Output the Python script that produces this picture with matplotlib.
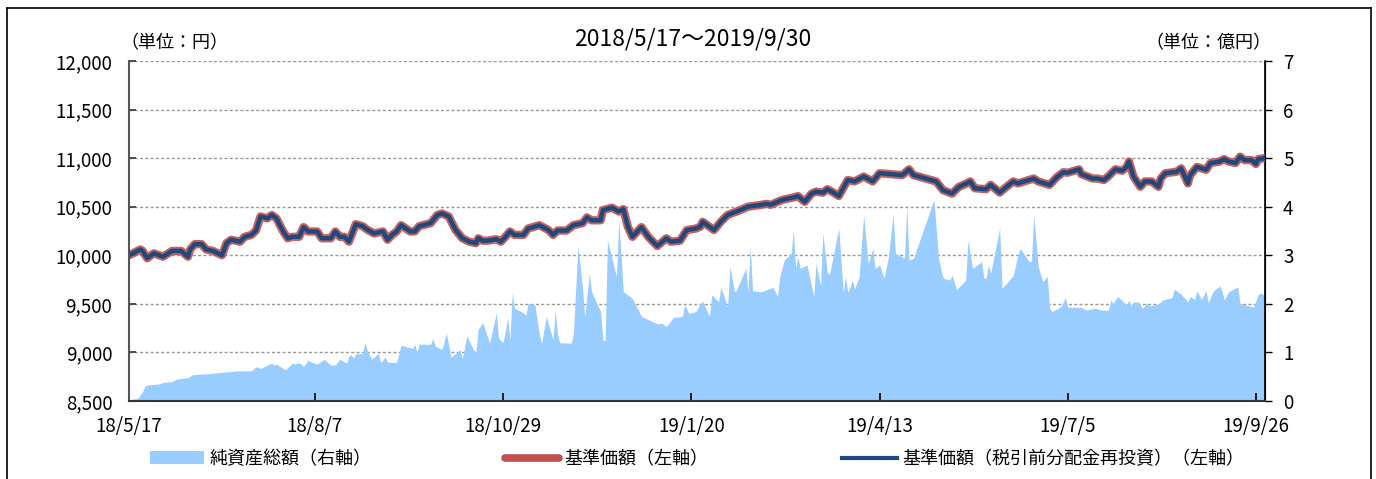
import pandas as pd
import matplotlib
matplotlib.use('Agg')
import matplotlib.pyplot as plt
from matplotlib.lines import Line2D
from matplotlib.patches import Patch

plt.rcParams['font.family'] = ['Noto Sans CJK JP', 'DejaVu Sans']

## 基準価額 (左軸, 円)
nav_dates = ['2018-05-17', '2018-05-22', '2018-05-23', '2018-05-25', '2018-05-28', '2018-06-01',
             '2018-06-05', '2018-06-09', '2018-06-12', '2018-06-13', '2018-06-15', '2018-06-18',
             '2018-06-20', '2018-06-23', '2018-06-27', '2018-06-29', '2018-07-01', '2018-07-05',
             '2018-07-07', '2018-07-10', '2018-07-12', '2018-07-14', '2018-07-17', '2018-07-19',
             '2018-07-21', '2018-07-24', '2018-07-26', '2018-07-28', '2018-07-31', '2018-08-02',
             '2018-08-04', '2018-08-08', '2018-08-10', '2018-08-14', '2018-08-16', '2018-08-18',
             '2018-08-20', '2018-08-22', '2018-08-25', '2018-08-28', '2018-08-30', '2018-09-02',
             '2018-09-06', '2018-09-08', '2018-09-10', '2018-09-12', '2018-09-14', '2018-09-18',
             '2018-09-20', '2018-09-22', '2018-09-27', '2018-09-30', '2018-10-02', '2018-10-05',
             '2018-10-08', '2018-10-11', '2018-10-14', '2018-10-17', '2018-10-18', '2018-10-20',
             '2018-10-22', '2018-10-26', '2018-10-28', '2018-10-30', '2018-11-01', '2018-11-03',
             '2018-11-07', '2018-11-09', '2018-11-14', '2018-11-18', '2018-11-20', '2018-11-22',
             '2018-11-26', '2018-11-29', '2018-12-03', '2018-12-05', '2018-12-07', '2018-12-11',
             '2018-12-12', '2018-12-16', '2018-12-19', '2018-12-21', '2018-12-23', '2018-12-25',
             '2018-12-29', '2019-01-01', '2019-01-05', '2019-01-09', '2019-01-11', '2019-01-15',
             '2019-01-18', '2019-01-22', '2019-01-24', '2019-01-25', '2019-01-30', '2019-02-02',
             '2019-02-05', '2019-02-10', '2019-02-14', '2019-02-20', '2019-02-22', '2019-02-24',
             '2019-02-27', '2019-03-01', '2019-03-06', '2019-03-08', '2019-03-11', '2019-03-14',
             '2019-03-16', '2019-03-19', '2019-03-21', '2019-03-23', '2019-03-26', '2019-03-30',
             '2019-04-02', '2019-04-06', '2019-04-10', '2019-04-13', '2019-04-18', '2019-04-23',
             '2019-04-26', '2019-04-28', '2019-05-08', '2019-05-11', '2019-05-15', '2019-05-18',
             '2019-05-21', '2019-05-23', '2019-05-25', '2019-05-30', '2019-06-01', '2019-06-05',
             '2019-06-08', '2019-06-11', '2019-06-13', '2019-06-20', '2019-06-22', '2019-06-27',
             '2019-06-30', '2019-07-03', '2019-07-05', '2019-07-10', '2019-07-11', '2019-07-16',
             '2019-07-18', '2019-07-21', '2019-07-23', '2019-07-26', '2019-07-29', '2019-07-31',
             '2019-08-01', '2019-08-03', '2019-08-06', '2019-08-08', '2019-08-11', '2019-08-14',
             '2019-08-15', '2019-08-17', '2019-08-22', '2019-08-24', '2019-08-27', '2019-08-28',
             '2019-08-31', '2019-09-04', '2019-09-06', '2019-09-10', '2019-09-12', '2019-09-14',
             '2019-09-17', '2019-09-19', '2019-09-21', '2019-09-24', '2019-09-26', '2019-09-27',
             '2019-09-30']
nav = [10000, 10060, 10045, 9970, 10020, 9985, 10045, 10045, 9985, 10060, 10115, 10115,
       10060, 10045, 10000, 10125, 10160, 10140, 10190, 10210, 10255, 10400, 10380, 10415,
       10380, 10245, 10175, 10190, 10190, 10290, 10245, 10245, 10175, 10175, 10245, 10190,
       10190, 10140, 10320, 10300, 10265, 10225, 10245, 10160, 10210, 10245, 10310, 10245,
       10245, 10300, 10330, 10415, 10430, 10400, 10260, 10175, 10140, 10125, 10175, 10150,
       10150, 10165, 10140, 10190, 10245, 10210, 10210, 10275, 10310, 10260, 10210, 10255,
       10255, 10310, 10330, 10390, 10360, 10360, 10465, 10490, 10450, 10475, 10295, 10190,
       10290, 10190, 10095, 10175, 10140, 10150, 10260, 10275, 10295, 10345, 10260, 10345,
       10415, 10460, 10500, 10520, 10530, 10520, 10550, 10570, 10595, 10610, 10550, 10635,
       10655, 10645, 10680, 10655, 10610, 10775, 10760, 10810, 10760, 10845, 10835, 10825,
       10885, 10825, 10760, 10670, 10635, 10705, 10735, 10760, 10690, 10680, 10725, 10645,
       10705, 10760, 10740, 10790, 10760, 10725, 10800, 10855, 10850, 10885, 10835, 10790,
       10790, 10775, 10815, 10885, 10870, 10910, 10965, 10810, 10705, 10760, 10760, 10705,
       10790, 10845, 10860, 10895, 10740, 10825, 10910, 10880, 10950, 10965, 10990, 10965,
       10950, 11015, 10980, 10980, 10940, 10990, 11000]
## 基準価額(税引前分配金再投資) - 分配なしのため同値
nav_reinvest = list(nav)

## 純資産総額 (右軸, 億円)
aum_dates = ['2018-05-17', '2018-05-21', '2018-05-23', '2018-05-24', '2018-05-25', '2018-05-30',
             '2018-06-01', '2018-06-05', '2018-06-07', '2018-06-12', '2018-06-14', '2018-06-20',
             '2018-06-23', '2018-06-26', '2018-06-30', '2018-07-03', '2018-07-10', '2018-07-12',
             '2018-07-14', '2018-07-19', '2018-07-20', '2018-07-21', '2018-07-25', '2018-07-28',
             '2018-07-29', '2018-07-31', '2018-08-02', '2018-08-04', '2018-08-06', '2018-08-08',
             '2018-08-11', '2018-08-14', '2018-08-16', '2018-08-18', '2018-08-21', '2018-08-22',
             '2018-08-23', '2018-08-24', '2018-08-25', '2018-08-28', '2018-08-29', '2018-08-30',
             '2018-09-01', '2018-09-04', '2018-09-05', '2018-09-07', '2018-09-08', '2018-09-12',
             '2018-09-14', '2018-09-19', '2018-09-20', '2018-09-21', '2018-09-22', '2018-09-27',
             '2018-09-28', '2018-09-29', '2018-10-02', '2018-10-04', '2018-10-06', '2018-10-10',
             '2018-10-11', '2018-10-13', '2018-10-16', '2018-10-17', '2018-10-18', '2018-10-20',
             '2018-10-23', '2018-10-26', '2018-10-27', '2018-10-29', '2018-10-31', '2018-11-01',
             '2018-11-02', '2018-11-03', '2018-11-06', '2018-11-08', '2018-11-09', '2018-11-12',
             '2018-11-14', '2018-11-15', '2018-11-17', '2018-11-20', '2018-11-21', '2018-11-22',
             '2018-11-23', '2018-11-28', '2018-11-29', '2018-12-01', '2018-12-03', '2018-12-04',
             '2018-12-06', '2018-12-07', '2018-12-11', '2018-12-12', '2018-12-13', '2018-12-14',
             '2018-12-18', '2018-12-19', '2018-12-21', '2018-12-25', '2018-12-29', '2019-01-05',
             '2019-01-07', '2019-01-09', '2019-01-12', '2019-01-16', '2019-01-17', '2019-01-19',
             '2019-01-22', '2019-01-24', '2019-01-25', '2019-01-28', '2019-01-29', '2019-02-01',
             '2019-02-02', '2019-02-05', '2019-02-06', '2019-02-08', '2019-02-09', '2019-02-13',
             '2019-02-14', '2019-02-15', '2019-02-16', '2019-02-20', '2019-02-25', '2019-02-27',
             '2019-02-28', '2019-03-02', '2019-03-05', '2019-03-06', '2019-03-07', '2019-03-08',
             '2019-03-09', '2019-03-12', '2019-03-15', '2019-03-16', '2019-03-18', '2019-03-19',
             '2019-03-21', '2019-03-22', '2019-03-26', '2019-03-28', '2019-03-29', '2019-03-30',
             '2019-04-01', '2019-04-02', '2019-04-04', '2019-04-06', '2019-04-08', '2019-04-10',
             '2019-04-11', '2019-04-13', '2019-04-15', '2019-04-17', '2019-04-19', '2019-04-20',
             '2019-04-24', '2019-04-25', '2019-04-26', '2019-04-28', '2019-05-07', '2019-05-09',
             '2019-05-11', '2019-05-14', '2019-05-15', '2019-05-17', '2019-05-21', '2019-05-22',
             '2019-05-24', '2019-05-28', '2019-05-29', '2019-05-30', '2019-05-31', '2019-06-01',
             '2019-06-05', '2019-06-06', '2019-06-08', '2019-06-11', '2019-06-13', '2019-06-14',
             '2019-06-18', '2019-06-19', '2019-06-20', '2019-06-22', '2019-06-24', '2019-06-26',
             '2019-06-27', '2019-06-28', '2019-07-02', '2019-07-04', '2019-07-05', '2019-07-11',
             '2019-07-13', '2019-07-17', '2019-07-20', '2019-07-23', '2019-07-24', '2019-07-25',
             '2019-07-27', '2019-07-31', '2019-08-01', '2019-08-02', '2019-08-03', '2019-08-05',
             '2019-08-07', '2019-08-09', '2019-08-10', '2019-08-14', '2019-08-16', '2019-08-20',
             '2019-08-21', '2019-08-24', '2019-08-27', '2019-08-28', '2019-08-30', '2019-08-31',
             '2019-09-02', '2019-09-04', '2019-09-05', '2019-09-07', '2019-09-10', '2019-09-11',
             '2019-09-12', '2019-09-14', '2019-09-18', '2019-09-19', '2019-09-25', '2019-09-27',
             '2019-09-28', '2019-09-30']
aum = [0.02, 0.06, 0.19, 0.30, 0.33, 0.35, 0.38, 0.40, 0.45, 0.48, 0.54, 0.56,
       0.57, 0.59, 0.60, 0.62, 0.62, 0.71, 0.67, 0.78, 0.74, 0.76, 0.64, 0.78,
       0.76, 0.79, 0.71, 0.84, 0.79, 0.76, 0.86, 0.74, 0.74, 0.86, 0.78, 0.93,
       0.95, 0.88, 0.97, 0.98, 1.20, 1.05, 0.86, 0.98, 0.79, 0.90, 0.80, 0.79,
       1.15, 1.08, 1.17, 1.01, 1.17, 1.17, 1.29, 1.13, 1.06, 1.39, 0.90, 1.06,
       0.88, 1.34, 1.05, 1.01, 1.48, 1.61, 1.19, 1.82, 1.29, 1.20, 1.72, 1.26,
       2.22, 1.91, 1.84, 1.77, 2.01, 1.98, 1.36, 1.19, 1.74, 1.26, 1.87, 1.36,
       1.20, 1.19, 1.39, 3.21, 2.32, 1.74, 2.63, 2.25, 1.84, 1.26, 1.24, 3.31,
       2.56, 3.73, 2.25, 2.11, 1.74, 1.59, 1.60, 1.53, 1.72, 1.74, 1.98, 1.80,
       1.84, 2.01, 2.05, 1.74, 2.18, 2.05, 2.34, 1.94, 2.77, 2.25, 2.29, 2.73,
       2.25, 3.18, 2.27, 2.25, 2.34, 2.15, 2.56, 2.90, 3.04, 3.52, 2.73, 2.97,
       2.73, 2.80, 2.15, 2.83, 2.37, 3.45, 2.64, 2.61, 3.56, 2.22, 2.56, 2.23,
       2.49, 2.30, 2.56, 3.83, 2.83, 3.14, 2.73, 2.80, 2.53, 2.99, 3.86, 3.04,
       2.94, 4.00, 2.90, 2.94, 4.15, 2.94, 2.53, 2.49, 2.59, 2.29, 2.49, 3.31,
       2.73, 2.87, 2.53, 2.53, 2.80, 2.63, 3.56, 2.32, 2.42, 2.59, 3.00, 3.14,
       2.87, 2.87, 3.83, 2.76, 2.46, 2.56, 1.91, 1.84, 1.94, 2.13, 1.93, 1.93,
       1.87, 1.91, 1.87, 1.87, 2.08, 2.01, 2.15, 1.98, 2.08, 1.96, 2.04, 2.04,
       1.91, 2.02, 1.96, 2.00, 2.08, 2.13, 2.30, 2.20, 2.04, 2.15, 2.09, 2.27,
       2.09, 2.27, 2.02, 2.25, 2.37, 2.27, 2.08, 2.25, 2.35, 2.01, 1.93, 2.20,
       2.22, 2.18]

tick_dates = ['2018-05-17', '2018-08-07', '2018-10-29', '2019-01-20', '2019-04-13', '2019-07-05', '2019-09-26']
tick_labels = ['18/5/17', '18/8/7', '18/10/29', '19/1/20', '19/4/13', '19/7/5', '19/9/26']

nav_x = pd.to_datetime(nav_dates)
aum_x = pd.to_datetime(aum_dates)

fig = plt.figure(figsize=(13.76, 4.79), dpi=100)
ax = fig.add_axes([129/1376, 78/479, 1136/1376, 340/479])
ax2 = ax.twinx()
ax.set_zorder(2)
ax2.set_zorder(1)
ax.patch.set_visible(False)

## area (right axis)
ax2.fill_between(aum_x, aum, 0, color='#99CCFF', linewidth=0, zorder=2)
ax2.set_ylim(0, 7)
ax2.set_yticks(range(0, 8))
ax2.grid(axis='y', color='#999999', linestyle=(0, (2.2, 1.6)), linewidth=1.0, zorder=0)
ax2.set_axisbelow(True)

## lines (left axis)
ax.plot(nav_x, nav, color='#C0504D', linewidth=6.0, alpha=0.9, solid_joinstyle='round', solid_capstyle='round')
ax.plot(nav_x, nav_reinvest, color='#1F497D', linewidth=3.2, solid_joinstyle='round')
ax.set_ylim(8500, 12000)
ax.set_yticks(range(8500, 12001, 500))
ax.set_yticklabels([f'{v:,}' for v in range(8500, 12001, 500)])
ax.set_xlim(pd.Timestamp('2018-05-17'), pd.Timestamp('2019-09-30'))
ax.set_xticks(pd.to_datetime(tick_dates))
ax.set_xticklabels(tick_labels)

for a in (ax, ax2):
    a.spines['top'].set_visible(False)
ax.spines['left'].set_color('#555555')
ax.spines['left'].set_linewidth(1.5)
ax.spines['bottom'].set_color('#333333')
ax.spines['bottom'].set_linewidth(1.5)
ax2.spines['right'].set_color('#000000')
ax2.spines['right'].set_linewidth(1.2)
ax2.spines['left'].set_visible(False)
ax2.spines['bottom'].set_visible(False)

ax.tick_params(axis='y', direction='in', length=5, width=1.2, labelsize=13.5, pad=12, colors='#333333', labelcolor='black')
ax.tick_params(axis='x', direction='in', length=6, width=1.2, labelsize=13.5, pad=11, colors='#000000')
ax2.tick_params(axis='y', direction='out', length=5, width=1.0, labelsize=13.5, pad=8)

fig.text(120/1376, 1 - 43/479, '（単位：円）', fontsize=13, ha='left', va='center')
fig.text(1271/1376, 1 - 43/479, '（単位：億円）', fontsize=13, ha='right', va='center')
fig.text(693/1376, 1 - 39/479, '2018/5/17～2019/9/30', fontsize=16.5, ha='center', va='center')

## outer frame
for xs, ys in (([7/1376, 7/1376], [0, 1 - 8/479]),
               ([7/1376, 1371/1376], [1 - 8/479, 1 - 8/479]),
               ([1371/1376, 1371/1376], [0, 1 - 8/479])):
    fig.add_artist(Line2D(xs, ys, color='black', linewidth=1.2, transform=fig.transFigure))

handles = [Patch(facecolor='#99CCFF', edgecolor='none'),
           Line2D([], [], color='#C0504D', linewidth=5.5, solid_capstyle='round'),
           Line2D([], [], color='#1F497D', linewidth=3.0)]
labels = ['純資産総額（右軸）', '基準価額（左軸）', '基準価額（税引前分配金再投資）（左軸）']
fig.legend(handles, labels, loc='center', bbox_to_anchor=(697/1376, 1 - 459/479), ncol=3,
           frameon=False, fontsize=13, columnspacing=7.4, handlelength=3.0, handletextpad=0.3)

fig.savefig('out.png', dpi=100)
